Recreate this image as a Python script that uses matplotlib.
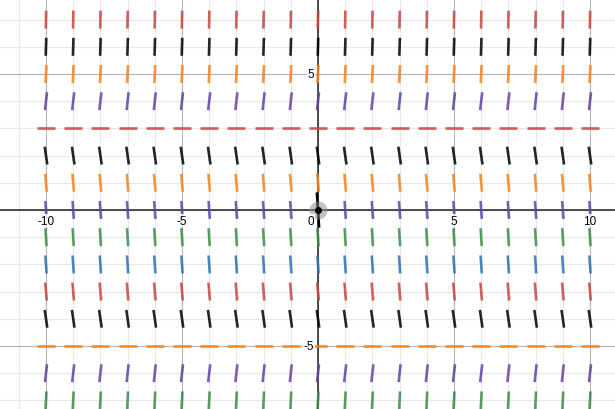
import numpy as np
import matplotlib
matplotlib.use("Agg")
import matplotlib.pyplot as plt

plt.rcParams['font.family'] = ['Liberation Sans', 'DejaVu Sans']

# slope field sample points
xs = list(range(-10, 11))
rows_y = [7, 6, 5, 4, 3, 2, 1, 0, -1, -2, -3, -4, -5, -6, -7]
# slopes read per row (same for every x)
rows_slope = [48, 33, 20, 9, 0, -7, -12, -15, -16, -15, -12, -7, 0, 9, 20]
rows_color = ['#c74440', '#000000', '#fa7e19', '#6042a6', '#c74440', '#000000',
              '#fa7e19', '#6042a6', '#388c46', '#2d70b3', '#c74440', '#000000',
              '#fa7e19', '#6042a6', '#388c46']

# tick labels
x_ticks = [-10, -5, 0, 5, 10]
y_ticks = [5, -5]

# point at origin with its slope line
pt = (0, 0)
pt_slope = -15

fig = plt.figure(figsize=(6.15, 4.10), dpi=100)
ax = fig.add_axes([0, 0, 1, 1])
ax.set_xlim(-318 / 27.2, 297 / 27.2)
ax.set_ylim(-199 / 27.2, 211 / 27.2)
ax.set_axis_off()

# grid
for v in range(-11, 11):
    c = '#b4b4b4' if v % 5 == 0 else '#e8e8e8'
    ax.axvline(v, color=c, lw=0.8, zorder=0)
for v in range(-7, 8):
    c = '#b4b4b4' if v % 5 == 0 else '#e8e8e8'
    ax.axhline(v, color=c, lw=0.8, zorder=0)
ax.axhline(0, color='#333333', lw=1.2, zorder=1)
ax.axvline(0, color='#333333', lw=1.2, zorder=1)

# slope segments
half = 0.33
for y, m, col in zip(rows_y, rows_slope, rows_color):
    dx = half / np.sqrt(1 + m * m)
    dy = m * dx
    px, py = [], []
    for x in xs:
        px += [x - dx, x + dx, np.nan]
        py += [y - dy, y + dy, np.nan]
    ax.plot(px, py, color=col, lw=1.9, alpha=0.85, solid_capstyle='butt', zorder=2)

# origin point
h = 0.6
dx = h / np.sqrt(1 + pt_slope ** 2)
ax.plot([pt[0] - dx, pt[0] + dx], [pt[1] - pt_slope * dx, pt[1] + pt_slope * dx],
        color='black', lw=1.8, zorder=3)
ax.plot(*pt, 'o', ms=13, color='#888888', alpha=0.5, mec='none', zorder=4)
ax.plot(*pt, 'o', ms=4, color='black', zorder=5)

# tick labels
box = dict(facecolor='white', edgecolor='none', pad=0.5, alpha=0.9)
for t in x_ticks:
    if t == 0:
        ax.text(-0.15, -0.17, '0', ha='right', va='top', fontsize=8.5, bbox=box, zorder=6)
    else:
        ax.text(t, -0.17, str(t), ha='center', va='top', fontsize=8.5, bbox=box, zorder=6)
for t in y_ticks:
    ax.text(-0.15, t, str(t), ha='right', va='center', fontsize=8.5, bbox=box, zorder=6)

fig.savefig('out.png', dpi=100)
